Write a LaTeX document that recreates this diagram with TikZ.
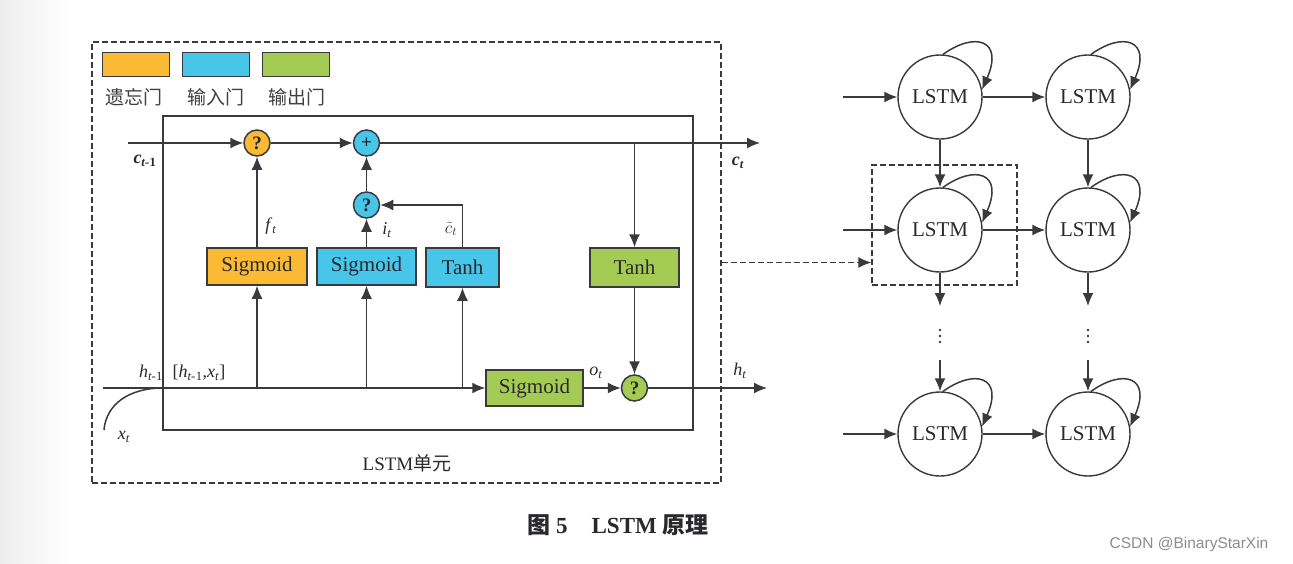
\documentclass[tikz,border=0pt]{standalone}
\usepackage{fontspec}
\setmainfont{Liberation Serif}
\newfontfamily\cjk{Noto Sans CJK SC}
\newfontfamily\wmfont{Liberation Sans}
\usetikzlibrary{arrows.meta}
\definecolor{gorange}{RGB}{251,186,52}
\definecolor{gblue}{RGB}{72,198,234}
\definecolor{ggreen}{RGB}{164,204,84}
\definecolor{lc}{RGB}{58,58,62}
\definecolor{txt}{RGB}{40,40,45}
\newcommand\vsub[2]{\textit{#1}\textsubscript{\textit{#2}}}
\begin{document}
\begin{tikzpicture}[x=1pt,y=-1pt,
  ln/.style={draw=lc, line width=1.5pt},
  arr/.style={-{Latex[length=13pt,width=11pt]}},
  dsh/.style={draw=lc, line width=1.3pt, dash pattern=on 6pt off 3pt},
  gatebox/.style={draw=lc, line width=1.5pt, inner sep=0pt, text=txt, font=\fontsize{21}{21}\selectfont},
  op/.style={circle, draw=lc, line width=1.5pt, minimum size=26pt, inner sep=0pt, text=txt, font=\bfseries\fontsize{19}{19}\selectfont},
  lstm/.style={circle, draw=lc, line width=1.4pt, minimum size=84pt, inner sep=0pt, text=txt, font=\fontsize{21}{21}\selectfont},
  lab/.style={text=txt, inner sep=0pt, font=\fontsize{18}{18}\selectfont},
  legbox/.style={draw=lc, line width=1pt, minimum width=67pt, minimum height=24pt, inner sep=0pt},
  legtxt/.style={text=black!75, inner sep=0pt, font=\cjk\fontsize{19}{19}\selectfont}
]
\useasboundingbox (0,0) rectangle (1293,563);
\fill[white] (0,0) rectangle (1293,563);
\shade[left color=black!7, right color=white] (0,0) rectangle (70,563);

% outer cell box and inner unit box
\node[dsh, minimum width=629pt, minimum height=441pt, inner sep=0pt] (cell) at (406.5,262.5) {};
\node[draw=lc, line width=1.5pt, minimum width=530pt, minimum height=314pt, inner sep=0pt] (unit) at (428,273) {};

% legend
\node[legbox, fill=gorange] (lg1) at (135.5,64) {};
\node[legbox, fill=gblue] (lg2) at (215.5,64) {};
\node[legbox, fill=ggreen] (lg3) at (295.5,64) {};
\node[legtxt] (lt1) at (134,97.5) {遗忘门};
\node[legtxt] (lt2) at (216,97.5) {输入门};
\node[legtxt] (lt3) at (297,97.5) {输出门};

% gate boxes
\node[gatebox, fill=gorange, minimum width=100pt, minimum height=37pt] (fs) at (257,266.5) {Sigmoid};
\node[gatebox, fill=gblue, minimum width=99pt, minimum height=37pt] (is) at (366.5,266.5) {Sigmoid};
\node[gatebox, fill=gblue, minimum width=73pt, minimum height=39pt] (ct) at (462.5,267.5) {Tanh};
\node[gatebox, fill=ggreen, minimum width=89pt, minimum height=39pt] (ot) at (634.5,267.5) {Tanh};
\node[gatebox, fill=ggreen, minimum width=97pt, minimum height=36pt] (os) at (534.5,388) {Sigmoid};

% pointwise ops
\node[op, fill=gorange] (fg) at (257,143) {?};
\node[op, fill=gblue] (add) at (366.5,143) {+};
\node[op, fill=gblue] (ig) at (366.5,205) {?};
\node[op, fill=ggreen] (og) at (634.5,388) {?};

% free ends
\coordinate (cin) at (128,143);
\coordinate (cout) at (760,143);
\coordinate (hin) at (103,388);
\coordinate (hout) at (767,388);
\coordinate (xin) at (104,430);
\coordinate (j) at (163,388);

% cell state line
\draw[ln,arr] (cin) -- (fg);
\draw[ln,arr] (fg) -- (add);
\draw[ln,arr] (add) -- (cout);
% hidden line
\draw[ln,arr] (hin) -- (os);
\draw[ln,arr] (os) -- (og);
\draw[ln,arr] (og) -- (hout);
\draw[ln] (xin) .. controls (106,405) and (128,388) .. (j);
% branches
\draw[ln,arr] (fs.south |- j) -- (fs.south);
\draw[ln,arr] (fs) -- (fg);
\draw[ln,arr] (is.south |- j) -- (is.south);
\draw[ln,arr] (is) -- (ig);
\draw[ln,arr] (ig) -- (add);
\draw[ln,arr] (ct.south |- j) -- (ct.south);
\draw[ln,arr] (ct.north) |- (ig);
\draw[ln,arr] (ot.north |- cin) -- (ot.north);
\draw[ln,arr] (ot) -- (og);

% labels
\node[lab] (lc1) at (145,161) {\textbf{\vsub{c}{t-}}\textbf{\textsubscript{1}}};
\node[lab] (lc2) at (738,163) {\textbf{\vsub{c}{t}}};
\node[lab] (lf) at (271,226) {\vsub{f}{t}};
\node[lab] (li) at (387,230) {\vsub{i}{t}};
\node[lab] (lct) at (451,229) {$\tilde{c}_{t}$};
\node[lab] (lo) at (596,373) {\vsub{o}{t}};
\node[lab] (lh) at (740,371) {\vsub{h}{t}};
\node[lab] (lh1) at (151,373) {\vsub{h}{t-}\textsubscript{1}};
\node[lab] (lhx) at (199,373) {[\vsub{h}{t-}\textsubscript{1},\vsub{x}{t}]};
\node[lab] (lx) at (124,437) {\vsub{x}{t}};
\node[text=txt, inner sep=0pt, font=\fontsize{19}{19}\selectfont] (lunit) at (407,463) {LSTM{\cjk 单元}};

% right side network
\node[lstm] (L11) at (940,97) {LSTM};
\node[lstm] (L12) at (1088,97) {LSTM};
\node[lstm] (L21) at (940,230) {LSTM};
\node[lstm] (L22) at (1088,230) {LSTM};
\node[lstm] (L31) at (940,434) {LSTM};
\node[lstm] (L32) at (1088,434) {LSTM};
\node[dsh, minimum width=145pt, minimum height=120pt, inner sep=0pt] (sel) at (944.5,225) {};

\coordinate (in1) at (843,97);
\coordinate (in2) at (843,230);
\coordinate (in3) at (843,434);
\coordinate (d1) at (940,306);
\coordinate (d2) at (1088,306);
\coordinate (u1) at (940,360);
\coordinate (u2) at (1088,360);

\draw[ln,arr] (in1) -- (L11);
\draw[ln,arr] (in2) -- (L21);
\draw[ln,arr] (in3) -- (L31);
\draw[ln,arr] (L11) -- (L12);
\draw[ln,arr] (L21) -- (L22);
\draw[ln,arr] (L31) -- (L32);
\draw[ln,arr] (L11) -- (L21);
\draw[ln,arr] (L12) -- (L22);
\draw[ln,arr] (L21) -- (d1);
\draw[ln,arr] (L22) -- (d2);
\draw[ln,arr] (u1) -- (L31);
\draw[ln,arr] (u2) -- (L32);
\foreach \xx in {940,1088}{
  \foreach \yy in {330,336,342}{
    \fill[lc] (\xx,\yy) circle (1.4pt);
  }
}
\foreach \n in {L11,L12,L21,L22,L31,L32}{
  \draw[ln,arr] (\n.86) .. controls +(32,-23) and +(22,-50) .. (\n.10);
}

% link from cell to network
\draw[dsh,arr] (cell.east) -- (cell.east -| sel.west);

% caption and watermark
\node[text=txt, inner sep=0pt, font=\bfseries\fontsize{23}{23}\selectfont] (cap) at (618,525) {{\cjk\bfseries 图} 5\hspace{24pt}LSTM {\cjk\bfseries 原理}};
\node[text=black!45, inner sep=0pt, font=\wmfont\fontsize{15.5}{15.5}\selectfont] (wm) at (1189,544) {CSDN @BinaryStarXin};
\end{tikzpicture}
\end{document}
